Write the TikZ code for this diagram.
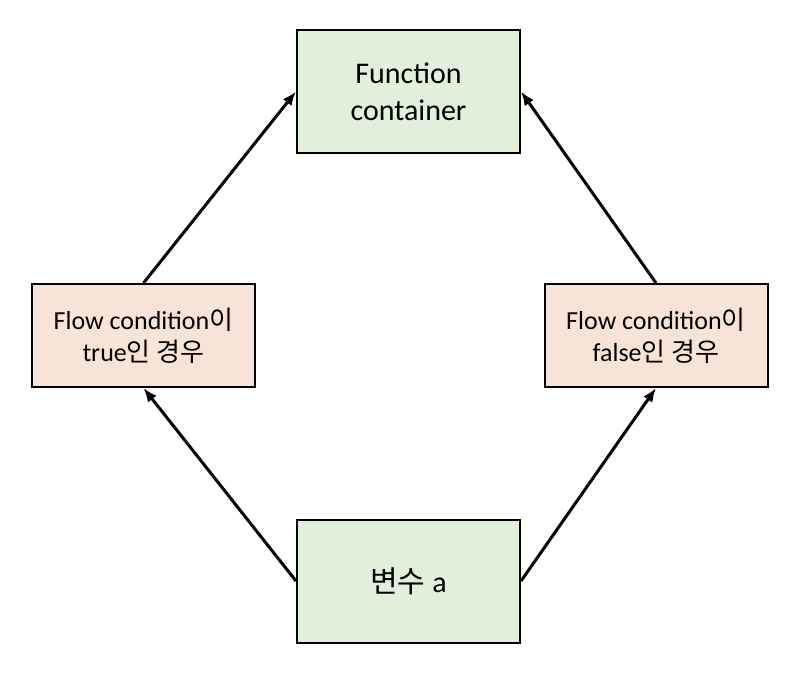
\documentclass[tikz,border=0pt]{standalone}
\usepackage{fontspec}
\setmainfont{Carlito}
\newfontfamily\kofont{Noto Sans CJK KR}
\usetikzlibrary{positioning, arrows.meta}
\newcommand{\ko}[1]{{\kofont #1}}
\definecolor{boxgreen}{HTML}{E2EFDA}
\definecolor{boxpeach}{HTML}{F8E4D6}

\begin{document}
\begin{tikzpicture}[x=1pt, y=-1pt,
    mainbox/.style={rectangle, draw=black, line width=2pt, fill=boxgreen, align=center,
        minimum width=223pt, minimum height=123pt, font=\fontsize{30}{37}\selectfont},
    condbox/.style={rectangle, draw=black, line width=2pt, fill=boxpeach, align=center,
        minimum width=223pt, minimum height=103pt, font=\fontsize{26}{32}\selectfont},
    flow/.style={line width=3pt, -{Latex[length=14pt, width=11pt]}}]
            \useasboundingbox (0, 0) rectangle (800, 675);
            \node[mainbox] (func) at (408.5, 91.5) {Function\\container};
            \node[condbox] (true) at (143.5, 335.5) {Flow condition\ko{이}\\true\ko{인 경우}};
            \node[condbox] (false) at (656, 335.5) {Flow condition\ko{이}\\false\ko{인 경우}};
            \node[mainbox] (var) at (408.5, 581) {\ko{변수} a};

            \draw[flow] (var.west) -- (true.south);
            \draw[flow] (var.east) -- (false.south);
            \draw[flow] (true.north) -- (func.west);
            \draw[flow] (false.north) -- (func.east);
        \end{tikzpicture}
\end{document}
